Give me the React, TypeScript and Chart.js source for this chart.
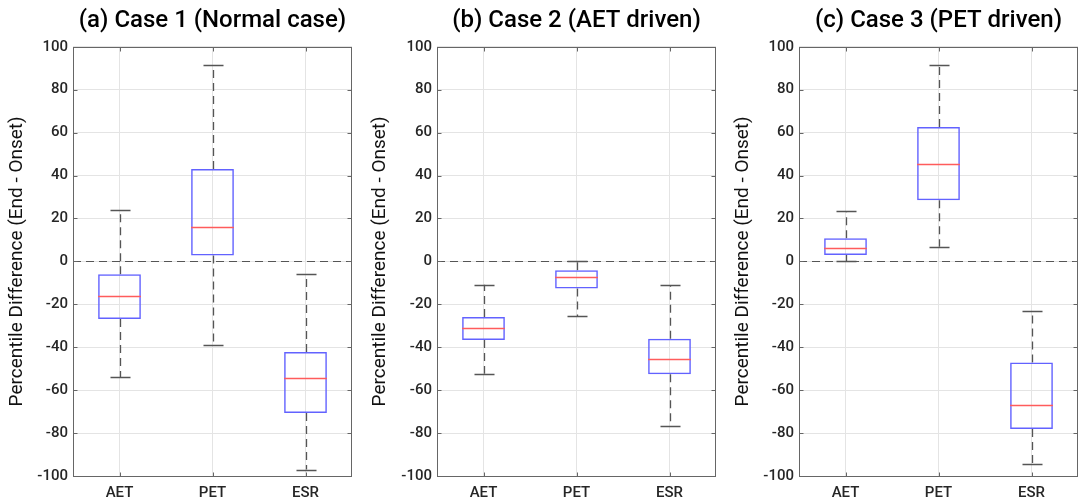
import React, { useEffect, useRef } from "react";
import { Chart, registerables } from "chart.js";

Chart.register(...registerables);

const categories = ["AET", "PET", "ESR"];
const yTicks = [-100, -80, -60, -40, -20, 0, 20, 40, 60, 80, 100];

const titles = ["(a) Case 1 (Normal case)", "(b) Case 2 (AET driven)", "(c) Case 3 (PET driven)"];
const yAxisTitle = "Percentile Difference (End - Onset)";

// per case: [AET, PET, ESR]
const case1Min = [-54, -39, -97];
const case1Q1 = [-26.8, 2.7, -70.6];
const case1Med = [-16.1, 15.9, -54.3];
const case1Q3 = [-6, 43, -42.2];
const case1Max = [24, 91.5, -6];

const case2Min = [-52.3, -25.4, -76.7];
const case2Q1 = [-36.6, -12.6, -52.6];
const case2Med = [-31.1, -7.2, -45.3];
const case2Q3 = [-25.9, -4.1, -36.1];
const case2Max = [-10.9, 0, -11.2];

const case3Min = [0, 6.8, -94.5];
const case3Q1 = [3, 28.5, -78.1];
const case3Med = [6.3, 45.5, -66.7];
const case3Q3 = [10.8, 62.6, -47.1];
const case3Max = [23.4, 91.5, -23.2];

const cases = [
  { min: case1Min, q1: case1Q1, med: case1Med, q3: case1Q3, max: case1Max },
  { min: case2Min, q1: case2Q1, med: case2Med, q3: case2Q3, max: case2Max },
  { min: case3Min, q1: case3Q1, med: case3Med, q3: case3Q3, max: case3Max },
];

const panels = [
  { left: 0, width: 360, axisW: 73, titlePad: 5, padRight: 8 },
  { left: 360, width: 358, axisW: 77, titlePad: 8, padRight: 2 },
  { left: 718, width: 360, axisW: 81, titlePad: 13, padRight: 0 },
];

const FONT = "Roboto, 'Noto Sans', sans-serif";

const boxPlugin = {
  id: "boxExtras",
  beforeDatasetsDraw(chart: any) {
    const { ctx, chartArea, scales } = chart;
    const x = scales.x;
    const y = scales.y;
    const d = (chart.options.plugins as any).boxExtras.data;
    ctx.save();
    const y0 = Math.round(y.getPixelForValue(0)) + 0.5;
    ctx.strokeStyle = "#555";
    ctx.lineWidth = 1;
    ctx.setLineDash([8, 5]);
    ctx.beginPath();
    ctx.moveTo(chartArea.left, y0);
    ctx.lineTo(chartArea.right, y0);
    ctx.stroke();
    const capHalf = 10;
    for (let i = 0; i < categories.length; i++) {
      const cx = Math.round(x.getPixelForValue(i)) + 0.5;
      ctx.strokeStyle = "#555";
      ctx.lineWidth = 1.3;
      ctx.setLineDash([8, 5]);
      ctx.beginPath();
      ctx.moveTo(cx, y.getPixelForValue(d.q3[i]));
      ctx.lineTo(cx, y.getPixelForValue(d.max[i]));
      ctx.moveTo(cx, y.getPixelForValue(d.q1[i]));
      ctx.lineTo(cx, y.getPixelForValue(d.min[i]));
      ctx.stroke();
      ctx.setLineDash([]);
      ctx.beginPath();
      const yt = Math.round(y.getPixelForValue(d.max[i])) + 0.5;
      const yb = Math.round(y.getPixelForValue(d.min[i])) + 0.5;
      ctx.moveTo(cx - capHalf, yt);
      ctx.lineTo(cx + capHalf, yt);
      ctx.moveTo(cx - capHalf, yb);
      ctx.lineTo(cx + capHalf, yb);
      ctx.stroke();
    }
    ctx.restore();
  },
  afterDatasetsDraw(chart: any) {
    const { ctx, chartArea, scales } = chart;
    const x = scales.x;
    const y = scales.y;
    const d = (chart.options.plugins as any).boxExtras.data;
    const meta = chart.getDatasetMeta(0);
    ctx.save();
    ctx.strokeStyle = "#ff5c5c";
    ctx.lineWidth = 1.5;
    for (let i = 0; i < categories.length; i++) {
      const bar = meta.data[i] as any;
      const hw = bar.width / 2;
      const cx = x.getPixelForValue(i);
      const ym = Math.round(y.getPixelForValue(d.med[i])) + 0.5;
      ctx.beginPath();
      ctx.moveTo(cx - hw, ym);
      ctx.lineTo(cx + hw, ym);
      ctx.stroke();
    }
    ctx.strokeStyle = "#666";
    ctx.lineWidth = 1;
    const l = Math.round(chartArea.left) + 0.5;
    const r = Math.round(chartArea.right) - 0.5;
    const t = Math.round(chartArea.top) + 0.5;
    const b = Math.round(chartArea.bottom) + 0.5;
    ctx.strokeRect(l, t, r - l, b - t);
    ctx.beginPath();
    for (const v of yTicks) {
      const py = Math.round(y.getPixelForValue(v)) + 0.5;
      ctx.moveTo(l, py);
      ctx.lineTo(l + 4, py);
      ctx.moveTo(r, py);
      ctx.lineTo(r - 4, py);
    }
    for (let i = 0; i < categories.length; i++) {
      const px = Math.round(x.getPixelForValue(i)) + 0.5;
      ctx.moveTo(px, t);
      ctx.lineTo(px, t + 4);
      ctx.moveTo(px, b);
      ctx.lineTo(px, b - 4);
    }
    ctx.stroke();
    ctx.restore();
  },
};

function BoxPanel({ idx }: { idx: number }) {
  const ref = useRef<HTMLCanvasElement | null>(null);
  useEffect(() => {
    if (!ref.current) return;
    const p = panels[idx];
    const d = cases[idx];
    const chart = new Chart(ref.current, {
      type: "bar",
      data: {
        labels: categories,
        datasets: [
          {
            data: categories.map((_, i) => [d.q1[i], d.q3[i]]) as any,
            backgroundColor: "rgba(255,255,255,0)",
            borderColor: "#6262ff",
            borderWidth: 1.5,
            borderSkipped: false,
            barPercentage: 0.46,
            categoryPercentage: 1,
          },
        ],
      },
      options: {
        animation: false,
        responsive: true,
        maintainAspectRatio: false,
        layout: { padding: { left: 0, right: p.padRight, top: 0, bottom: 0 } },
        plugins: {
          legend: { display: false },
          tooltip: { enabled: false },
          title: {
            display: true,
            text: titles[idx],
            fullSize: false,
            color: "#000",
            font: { family: FONT, size: 24, weight: "500" },
            padding: { top: 7, bottom: 11 },
          },
          boxExtras: { data: d },
        } as any,
        scales: {
          x: {
            type: "category",
            offset: true,
            grid: { display: true, offset: false, color: "#e4e4e4", drawTicks: false },
            border: { display: false },
            ticks: { color: "#262626", font: { family: FONT, size: 15, weight: "500" }, padding: 8 },
            afterFit: (s: any) => {
              s.height = 25;
            },
          },
          y: {
            min: -100,
            max: 100,
            grid: { color: "#e4e4e4", drawTicks: false },
            border: { display: false },
            ticks: {
              stepSize: 20,
              color: "#262626",
              font: { family: FONT, size: 15, weight: "500" },
              padding: 5,
            },
            title: {
              display: true,
              text: yAxisTitle,
              color: "#111",
              font: { family: FONT, size: 19, weight: "normal" },
              padding: { top: p.titlePad + 1, bottom: 0 },
            },
            afterFit: (s: any) => {
              s.width = p.axisW;
            },
          },
        },
      },
      plugins: [boxPlugin],
    });
    return () => chart.destroy();
  }, [idx]);
  const p = panels[idx];
  return (
    <div style={{ position: "absolute", left: p.left, top: 0, width: p.width, height: 501 }}>
      <canvas ref={ref} />
    </div>
  );
}

export default function App() {
  return (
    <div style={{ position: "fixed", left: 0, top: 0, width: 1078, height: 501, background: "#fff" }}>
      <BoxPanel idx={0} />
      <BoxPanel idx={1} />
      <BoxPanel idx={2} />
    </div>
  );
}
